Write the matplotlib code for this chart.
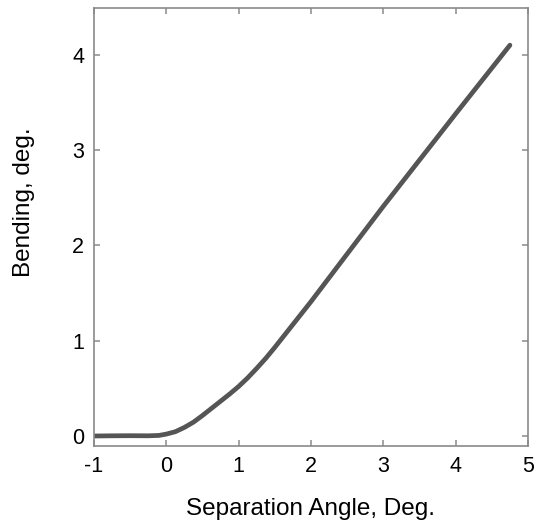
import matplotlib
matplotlib.use("Agg")
import matplotlib.pyplot as plt

# Data
sep_angle = [-1.0, -0.75, -0.5, -0.25, -0.1, 0.0, 0.125, 0.25, 0.375, 0.5, 0.625, 0.75,
             0.875, 1.0, 1.125, 1.25, 1.375, 1.5, 1.625, 1.75, 1.875,
             2.0, 2.25, 2.5, 3.0, 3.5, 4.0, 4.5, 4.75]
bending = [0.0, 0.002, 0.003, 0.002, 0.006, 0.02, 0.045, 0.09, 0.145, 0.215, 0.29, 0.365,
           0.44, 0.52, 0.61, 0.71, 0.815, 0.93, 1.05, 1.17, 1.29,
           1.41, 1.66, 1.91, 2.41, 2.895, 3.38, 3.86, 4.1]
x_ticks = [-1, 0, 1, 2, 3, 4, 5]
y_ticks = [0, 1, 2, 3, 4]

plt.rcParams['font.family'] = ['Liberation Sans', 'DejaVu Sans']

fig = plt.figure(figsize=(5.36, 5.23), dpi=100)
ax = fig.add_axes([94/536, 1 - 446/523, (528-94)/536, (446-8)/523])

ax.plot(sep_angle, bending, color='#555555', lw=3.4,
        solid_capstyle='round', solid_joinstyle='round')

ax.set_xlim(-1, 5)
ax.set_ylim(-0.105, 4.49)
ax.set_xticks(x_ticks)
ax.set_yticks(y_ticks)
ax.set_xticklabels([str(t) for t in x_ticks])
ax.set_yticklabels([str(t) for t in y_ticks])

for s in ax.spines.values():
    s.set_color('#8a8a8a')
    s.set_linewidth(1.2)

ax.tick_params(direction='in', length=4, width=1.1, color='#8a8a8a',
               top=True, right=True, labelsize=15.5, pad=7, labelcolor='black')

ax.set_xlabel('Separation Angle, Deg.', fontsize=17.5, labelpad=15)
ax.set_ylabel('Bending, deg.', fontsize=17.5, labelpad=20)
ax.yaxis.set_label_coords(-0.135, 0.557)

fig.savefig('out.png', dpi=100)
